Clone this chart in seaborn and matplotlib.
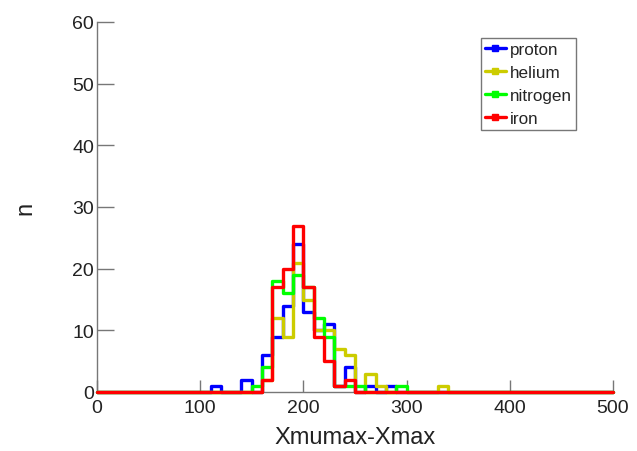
import numpy as np
import pandas as pd
import matplotlib
matplotlib.use("Agg")
import matplotlib.pyplot as plt
from matplotlib.lines import Line2D
import seaborn as sns

# bin low edges (bin width 10) and counts
proton_bins = [110, 140, 160, 170, 180, 190, 200, 210, 220, 230, 240, 260, 280]
proton_n = [1, 2, 6, 9, 14, 24, 13, 10, 11, 1, 4, 1, 1]

helium_bins = [160, 170, 180, 190, 200, 210, 220, 230, 240, 260, 270, 330]
helium_n = [2, 12, 9, 21, 15, 10, 10, 7, 6, 3, 1, 1]

nitrogen_bins = [150, 160, 170, 180, 190, 200, 210, 220, 230, 240, 250, 290]
nitrogen_n = [1, 4, 18, 16, 19, 17, 12, 9, 1, 1, 1, 1]

iron_bins = [160, 170, 180, 190, 200, 210, 220, 230, 240]
iron_n = [2, 17, 20, 27, 17, 9, 5, 1, 2]

names = ["proton", "helium", "nitrogen", "iron"]
colors = ["#0000ff", "#cccc00", "#00ff00", "#ff0000"]

# long table: one row per filled bin
frames = []
for name, b, n in zip(names, [proton_bins, helium_bins, nitrogen_bins, iron_bins],
                      [proton_n, helium_n, nitrogen_n, iron_n]):
    frames.append(pd.DataFrame({"x": np.array(b) + 5, "n": n, "particle": name}))
df = pd.concat(frames, ignore_index=True)

sns.set_style("ticks")
plt.rcParams["font.family"] = ["Liberation Sans", "DejaVu Sans"]

fig = plt.figure(figsize=(6.37, 4.52), dpi=100)
ax = fig.add_axes([97 / 637, 59 / 452, 516 / 637, 370 / 452])

# draw one at a time so iron ends up on top
for name, col in zip(names, colors):
    sns.histplot(data=df[df["particle"] == name], x="x", weights="n",
                 binwidth=10, binrange=(0, 500),
                 element="step", fill=False, color=col, linewidth=2.4, ax=ax)
# lines over the axis line, like the original
for i, ln in enumerate(ax.lines):
    ln.set_clip_on(False)
    ln.set_zorder(3 + i * 0.1)

ax.set_xlim(0, 500)
ax.set_ylim(0, 60)
ax.set_xticks(np.arange(0, 501, 100))
ax.set_yticks(np.arange(0, 61, 10))
ax.tick_params(axis="y", direction="in", length=12, width=1, color="#777777",
               labelsize=14, pad=2, labelcolor="#222222")
ax.tick_params(axis="x", direction="in", length=9, width=1, color="#777777",
               labelsize=14, pad=5, labelcolor="#222222")
for s in ["top", "right"]:
    ax.spines[s].set_visible(False)
for s in ["left", "bottom"]:
    ax.spines[s].set_color("#777777")
    ax.spines[s].set_linewidth(1)

ax.set_xlabel("Xmumax-Xmax", fontsize=17, color="#222222", labelpad=7)
ax.set_ylabel("n", fontsize=17, color="#222222", labelpad=26)

handles = [Line2D([], [], color=c, linewidth=2.4, marker="s", markersize=4) for c in colors]
leg = ax.legend(handles, names, loc="upper left", bbox_to_anchor=(0.744, 0.957),
                borderaxespad=0, fancybox=False, framealpha=1, edgecolor="#777777",
                fontsize=12.3, handlelength=1.25, handletextpad=0.22,
                labelspacing=0.48, borderpad=0.22)
leg.get_frame().set_linewidth(1)
leg.set_zorder(5)

fig.savefig("out.png", dpi=100)
